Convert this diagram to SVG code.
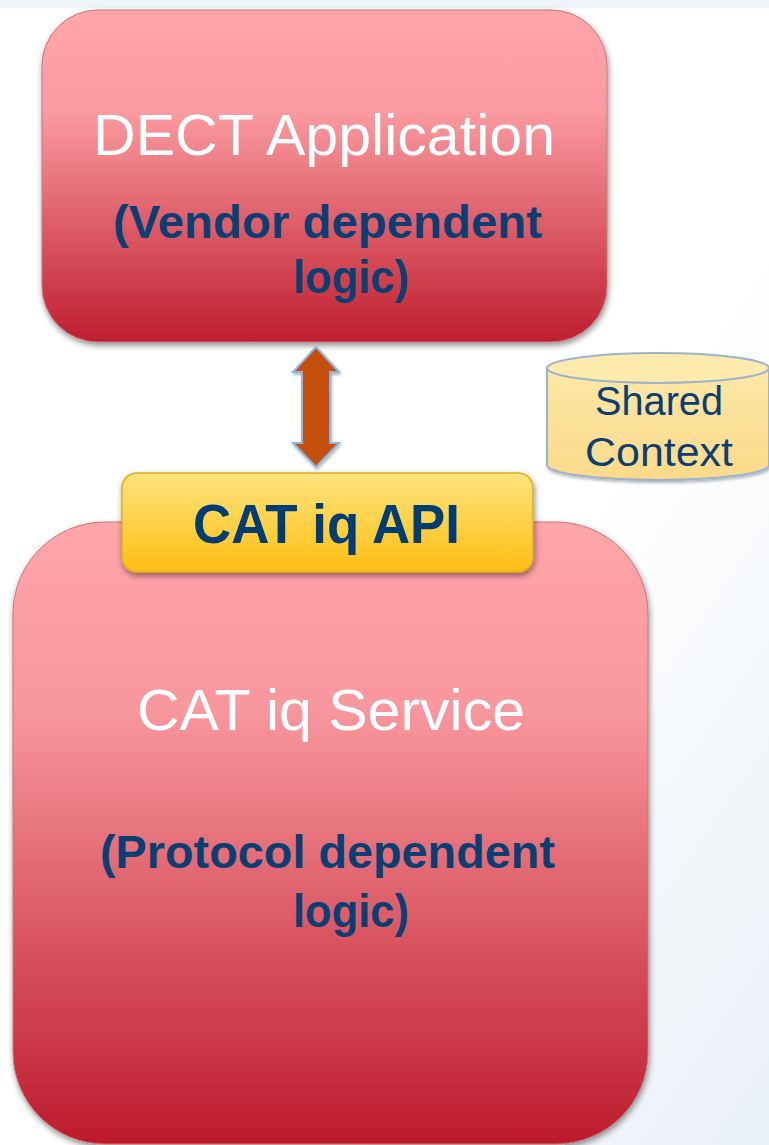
<svg xmlns="http://www.w3.org/2000/svg" width="769" height="1145" viewBox="0 0 769 1145">
<defs>
<linearGradient id="bg" x1="0" y1="0" x2="1" y2="1">
<stop offset="0" stop-color="#ffffff"/>
<stop offset="0.6" stop-color="#ffffff"/>
<stop offset="1" stop-color="#e9f0f7"/>
</linearGradient>
<linearGradient id="redTop" x1="0" y1="0" x2="0" y2="1">
<stop offset="0" stop-color="#ffa6ab"/>
<stop offset="0.3" stop-color="#fb9ba1"/>
<stop offset="1" stop-color="#bf1e2e"/>
</linearGradient>
<linearGradient id="redBot" x1="0" y1="0" x2="0" y2="1">
<stop offset="0" stop-color="#ffa6ab"/>
<stop offset="0.3" stop-color="#f8979d"/>
<stop offset="1" stop-color="#bd1b2c"/>
</linearGradient>
<linearGradient id="yel" x1="0" y1="0" x2="0" y2="1">
<stop offset="0" stop-color="#ffe47e"/>
<stop offset="1" stop-color="#fdbe13"/>
</linearGradient>
<linearGradient id="cyl" x1="0" y1="0" x2="0" y2="1">
<stop offset="0" stop-color="#fde8a6"/>
<stop offset="1" stop-color="#fbd98a"/>
</linearGradient>
<filter id="sh" x="-10%" y="-10%" width="120%" height="125%">
<feGaussianBlur in="SourceAlpha" stdDeviation="3"/>
<feOffset dx="1" dy="3" result="b"/>
<feComponentTransfer><feFuncA type="linear" slope="0.45"/></feComponentTransfer>
<feMerge><feMergeNode/><feMergeNode in="SourceGraphic"/></feMerge>
</filter>
<filter id="shs" x="-10%" y="-10%" width="120%" height="130%">
<feGaussianBlur in="SourceAlpha" stdDeviation="1.5"/>
<feOffset dx="1" dy="2"/>
<feComponentTransfer><feFuncA type="linear" slope="0.3"/></feComponentTransfer>
<feMerge><feMergeNode/><feMergeNode in="SourceGraphic"/></feMerge>
</filter>
</defs>
<style>
.title{font-family:"Liberation Sans",Arial,sans-serif;font-size:58px;fill:#ffffff}
.sub{font-family:"Liberation Sans",Arial,sans-serif;font-size:47px;font-weight:bold;fill:#0b3f73}
.api{font-family:"Liberation Sans",Arial,sans-serif;font-size:56px;font-weight:bold;fill:#003d73}
.cyl{font-family:"Liberation Sans",Arial,sans-serif;font-size:40px;fill:#0b3f73}
</style>
<rect width="769" height="1145" fill="url(#bg)"/>
<rect width="769" height="8" fill="#eef5f9"/>

<g id="dect-application">
<rect x="42" y="10" width="565" height="332" rx="56" ry="56" fill="url(#redTop)" stroke="#c9747b" stroke-width="1" filter="url(#sh)"/>
<text class="title" x="93" y="155" textLength="462" lengthAdjust="spacingAndGlyphs">DECT Application</text>
<text class="sub" x="113" y="238" textLength="429" lengthAdjust="spacingAndGlyphs">(Vendor dependent</text>
<text class="sub" x="293" y="293" textLength="116" lengthAdjust="spacingAndGlyphs">logic)</text>
</g>

<g id="catiq-service">
<rect x="13" y="522" width="635" height="622" rx="92" ry="92" fill="url(#redBot)" stroke="#c9747b" stroke-width="1" filter="url(#sh)"/>
<text class="title" x="137" y="730" textLength="388" lengthAdjust="spacingAndGlyphs">CAT iq Service</text>
<text class="sub" x="100" y="868" textLength="455" lengthAdjust="spacingAndGlyphs">(Protocol dependent</text>
<text class="sub" x="293" y="927" textLength="116" lengthAdjust="spacingAndGlyphs">logic)</text>
</g>

<g id="shared-context">
<path d="M547 368 L547 465 A111 15 0 0 0 769 465 L769 368 Z" fill="url(#cyl)" stroke="#9bb3cc" stroke-width="2" filter="url(#shs)"/>
<ellipse cx="658" cy="368" rx="111" ry="15" fill="#fdeaac" stroke="#9bb3cc" stroke-width="2"/>
<text class="cyl" x="595" y="415" textLength="128" lengthAdjust="spacingAndGlyphs">Shared</text>
<text class="cyl" x="585" y="466" textLength="148" lengthAdjust="spacingAndGlyphs">Context</text>
</g>

<g id="connectors">
<path d="M316 347 L339 372 L330 372 L330 443 L339 443 L316 467 L293 443 L302 443 L302 372 L293 372 Z" fill="#c55008" stroke="#8eb4e3" stroke-width="2" stroke-linejoin="miter" filter="url(#shs)"/>
</g>

<g id="catiq-api">
<rect x="122" y="473" width="411" height="99" rx="15" ry="15" fill="url(#yel)" stroke="#e2ac1c" stroke-width="1.5" filter="url(#sh)"/>
<text class="api" x="193" y="543" textLength="267" lengthAdjust="spacingAndGlyphs">CAT iq API</text>
</g>
</svg>
